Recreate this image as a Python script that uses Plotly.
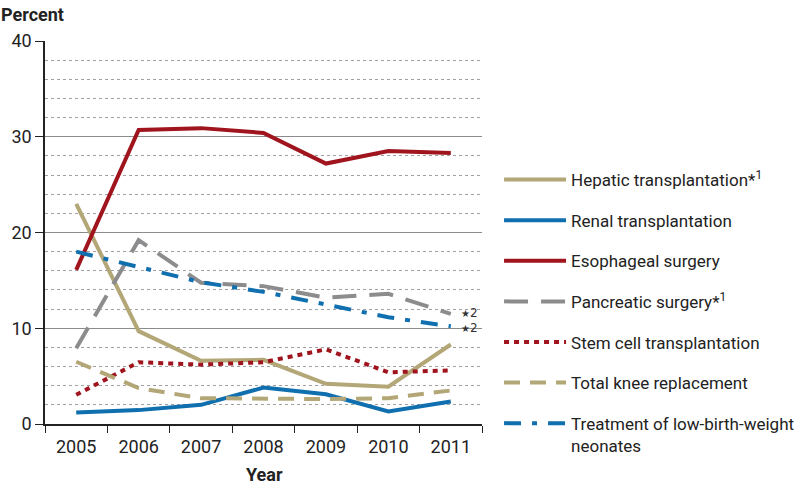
import plotly.graph_objects as go

years = ["2005", "2006", "2007", "2008", "2009", "2010", "2011"]

hepatic = [23.0, 9.7, 6.6, 6.7, 4.2, 3.9, 8.3]
renal = [1.2, 1.45, 2.0, 3.8, 3.1, 1.3, 2.35]
esophageal = [16.1, 30.7, 30.9, 30.4, 27.2, 28.5, 28.3]
pancreatic = [7.9, 19.2, 14.75, 14.4, 13.2, 13.6, 11.5]
stem_cell = [3.05, 6.45, 6.2, 6.45, 7.8, 5.4, 5.6]
knee = [6.5, 3.75, 2.7, 2.6, 2.6, 2.7, 3.5]
lbw = [18.0, 16.35, 14.8, 13.8, 12.5, 11.15, 10.2]

names = [
    "Hepatic transplantation*<sup>1</sup>",
    "Renal transplantation",
    "Esophageal surgery",
    "Pancreatic surgery*<sup>1</sup>",
    "Stem cell transplantation",
    "Total knee replacement",
    "Treatment of low-birth-weight<br>neonates",
]

TAN = "#B3A677"
BLUE = "#0F6FAF"
RED = "#A0141E"
GRAY = "#8C8C8E"

series = [hepatic, renal, esophageal, pancreatic, stem_cell, knee, lbw]
colors = [TAN, BLUE, RED, GRAY, RED, TAN, BLUE]
dashes = ["solid", "solid", "solid", "24px,13px", "5px,5px", "16px,10px", "17px,11px,5px,11px"]

FONT = "Roboto, Liberation Sans, sans-serif"

fig = go.Figure()
for i, (vals, nm, c, d) in enumerate(zip(series, names, colors, dashes)):
    fig.add_trace(go.Scatter(
        x=years, y=vals, mode="lines", name=nm,
        line=dict(color=c, width=4, dash=d),
        legendgroup=f"g{i}",
    ))

last_idx = len(years) - 1
for v, ys in ((pancreatic[-1], 1), (lbw[-1], -2)):
    fig.add_annotation(x=last_idx, y=v, xref="x", yref="y",
                       text="<span style='font-size:10px'>★</span>2", showarrow=False,
                       xanchor="left", xshift=8, yshift=ys,
                       font=dict(size=12, color="#333", family="DejaVu Sans"))

fig.add_annotation(xref="paper", yref="paper", x=-0.106, y=1.068, xanchor="left",
                   yanchor="middle", text="<b>Percent</b>", showarrow=False,
                   font=dict(size=18, color="#222", family=FONT))
fig.add_annotation(xref="paper", yref="paper", x=0.503, y=-0.131, xanchor="center",
                   yanchor="middle", text="<b>Year</b>", showarrow=False,
                   font=dict(size=18, color="#222", family=FONT))

fig.update_layout(
    width=796, height=487,
    margin=dict(l=45, r=314, t=41, b=63, autoexpand=False),
    paper_bgcolor="white", plot_bgcolor="white",
    font=dict(family=FONT, color="#222", size=17),
    showlegend=True,
    legend=dict(
        x=1.039, y=0.684, xanchor="left", yanchor="top",
        traceorder="grouped", tracegroupgap=15.5,
        itemwidth=62, valign="top",
        font=dict(size=17, family=FONT, color="#222"),
        bgcolor="rgba(0,0,0,0)",
    ),
    xaxis=dict(
        type="category", tickson="boundaries", ticks="outside", ticklen=7,
        tickcolor="#222", showline=True, linecolor="#222", linewidth=1.5,
        showgrid=False, tickfont=dict(size=18), range=[-0.5, 6.5],
        ticklabelstandoff=6,
    ),
    yaxis=dict(
        range=[0, 40], tickvals=[0, 10, 20, 30, 40], ticks="outside", ticklen=8,
        tickcolor="#222", showline=True, linecolor="#222", linewidth=1.5,
        showgrid=True, gridcolor="#8c8c8c", gridwidth=1, zeroline=False,
        tickfont=dict(size=18),
        minor=dict(dtick=2, showgrid=True, gridcolor="#a0a0a0", griddash="dot",
                   gridwidth=1, ticks=""),
    ),
)

fig.write_html("out.html", config={"displayModeBar": False},
               post_script="document.body.style.margin='0';")
